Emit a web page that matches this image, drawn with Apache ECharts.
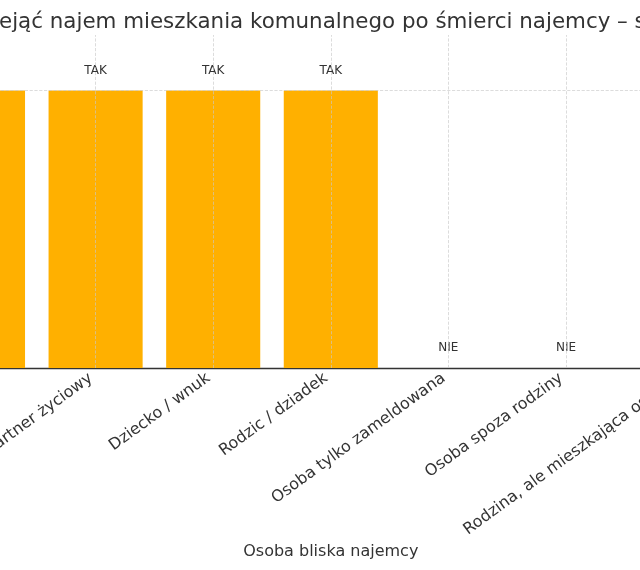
<!DOCTYPE html>
<html>
<head>
<meta charset="utf-8">
<script src="https://cdn.jsdelivr.net/npm/echarts@6/dist/echarts.min.js"></script>
<style>
    html, body { margin: 0; padding: 0; background: #fff; }
    #chart { width: 640px; height: 570px; }
</style>
</head>
<body>
<div id="chart"></div>
<script>
var categories = ['Małżonek', 'Partner życiowy', 'Dziecko / wnuk', 'Rodzic / dziadek',
    'Osoba tylko zameldowana', 'Osoba spoza rodziny', 'Rodzina, ale mieszkająca osobno'];
var values = [1, 1, 1, 1, 0, 0, 0];
var answers = ['TAK', 'TAK', 'TAK', 'TAK', 'NIE', 'NIE', 'NIE'];
var titleText = 'Kto może przejąć najem mieszkania komunalnego po śmierci najemcy – stan prawny';
var titleHidden = 'Kto może prz'; // part of the title that falls left of the picture

var FONT = 'DejaVu Sans';
var TITLE_SIZE = 21.4;

// width of the hidden part of the title, so the visible text lines up
function textWidth(txt, size) {
    var ctx = document.createElement('canvas').getContext('2d');
    ctx.font = size + 'px "' + FONT + '"';
    return ctx.measureText(txt).width;
}

var chart = echarts.init(document.getElementById('chart'));

var gridLines = categories.map(function (c) {
    return { xAxis: c };
});
gridLines.push({ yAxis: 1 });

var option = {
    animation: false,
    backgroundColor: '#fff',
    textStyle: { fontFamily: FONT },
    graphic: [{
        type: 'text',
        left: -textWidth(titleHidden, TITLE_SIZE) - 1,
        top: 12,
        style: {
            text: titleText,
            fontSize: TITLE_SIZE,
            fontFamily: FONT,
            fill: '#333'
        }
    }],
    grid: {
        left: -80.8,
        right: -102.4,
        top: 35,
        bottom: 202,
        containLabel: false,
        outerBoundsMode: 'none'
    },
    xAxis: {
        type: 'category',
        data: categories,
        name: 'Osoba bliska najemcy',
        nameLocation: 'middle',
        nameGap: 176,
        nameMoveOverlap: false,
        nameTextStyle: { fontSize: 16, color: '#333', fontFamily: FONT },
        axisLine: { lineStyle: { color: '#333', width: 1.3 } },
        axisTick: { inside: true, length: 5, alignWithLabel: true, lineStyle: { color: '#333' } },
        axisLabel: {
            interval: 0,
            rotate: 36,
            margin: 15,
            verticalAlign: 'bottom',
            fontSize: 16,
            color: '#333',
            fontFamily: FONT
        },
        splitLine: { show: false }
    },
    yAxis: {
        type: 'value',
        min: 0,
        max: 1.2,
        show: false,
        splitLine: { show: false }
    },
    series: [{
        type: 'bar',
        data: values,
        barWidth: '80%',
        itemStyle: { color: '#FFB000' },
        label: {
            show: true,
            position: 'top',
            distance: 14,
            fontSize: 12,
            color: '#333',
            fontFamily: FONT,
            formatter: function (p) {
                return answers[p.dataIndex];
            }
        },
        markLine: {
            silent: true,
            symbol: 'none',
            label: { show: false },
            lineStyle: { type: 'dashed', color: '#c8c8c8', width: 0.8, opacity: 0.8 },
            data: gridLines
        }
    }]
};

chart.setOption(option);
</script>
</body>
</html>
